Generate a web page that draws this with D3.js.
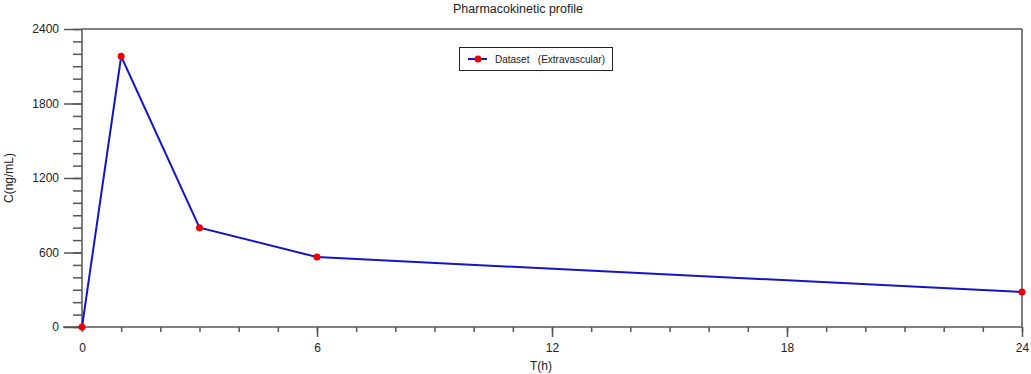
<!DOCTYPE html>
<html>
<head>
<meta charset="utf-8">
<title>Pharmacokinetic profile</title>
<script src="https://d3js.org/d3.v7.min.js"></script>
<style>
    body { margin: 0; background: #fff; }
    svg { display: block; }
    text { font-family: "Liberation Sans", Arial, sans-serif; fill: #222; }
</style>
</head>
<body>
<script>
// data
var times = [0, 1, 3, 6, 24];
var conc = [0, 2180, 800, 563, 282];
var xTicks = [0, 6, 12, 18, 24];
var yTicks = [0, 600, 1200, 1800, 2400];
var seriesName = "Dataset   (Extravascular)";

var w = 1031, h = 374;
// plot box (avoid "top", it clashes with window.top)
var pLeft = 82, pRight = 1022, pTop = 29, pBottom = 327;

var svg = d3.select("body").append("svg")
    .attr("width", w)
    .attr("height", h);

var x = d3.scaleLinear().domain([0, 24]).range([pLeft, pRight]);
var y = d3.scaleLinear().domain([0, 2400]).range([pBottom, pTop]);

var axisColor = "#555";

// frame top and right
svg.append("line")
    .attr("x1", pLeft).attr("x2", pRight).attr("y1", pTop).attr("y2", pTop)
    .attr("stroke", axisColor).attr("stroke-width", 1.5);
svg.append("line")
    .attr("x1", pRight).attr("x2", pRight).attr("y1", pTop).attr("y2", pBottom)
    .attr("stroke", axisColor).attr("stroke-width", 1.5);

// y axis: major ticks every 600, minor every 100
var yAxis = svg.append("g").attr("transform", "translate(" + pLeft + ",0)");
yAxis.append("g")
    .call(d3.axisLeft(y).tickValues(d3.range(0, 2401, 100)).tickSize(9).tickFormat(""))
    .call(function(g) { g.select(".domain").remove(); });
yAxis.append("g")
    .call(d3.axisLeft(y).tickValues(yTicks).tickSize(18).tickPadding(5).tickFormat(d3.format("d")))
    .call(function(g) { g.select(".domain").remove(); });
yAxis.selectAll("line").attr("stroke", axisColor).attr("stroke-width", 1.5);
yAxis.append("line")
    .attr("y1", pTop).attr("y2", pBottom + 3)
    .attr("stroke", axisColor).attr("stroke-width", 1.5);

// x axis: major ticks every 6, minor every 1
var xAxis = svg.append("g").attr("transform", "translate(0," + pBottom + ")");
xAxis.append("g")
    .call(d3.axisBottom(x).tickValues(d3.range(0, 25, 1)).tickSize(5).tickFormat(""))
    .call(function(g) { g.select(".domain").remove(); });
xAxis.append("g")
    .call(d3.axisBottom(x).tickValues(xTicks.slice(1)).tickSize(10).tickPadding(6).tickFormat(d3.format("d")))
    .call(function(g) { g.select(".domain").remove(); });
xAxis.append("g")
    .call(d3.axisBottom(x).tickValues([0]).tickSize(0).tickPadding(16).tickFormat(d3.format("d")))
    .call(function(g) { g.select(".domain").remove(); });
xAxis.selectAll("line").attr("stroke", axisColor).attr("stroke-width", 1.5);
xAxis.append("line")
    .attr("x1", pLeft - 19).attr("x2", pRight)
    .attr("stroke", axisColor).attr("stroke-width", 1.5);

svg.selectAll(".tick text")
    .attr("font-size", 12)
    .attr("fill", "#222")
    .attr("font-family", "'Liberation Sans', Arial, sans-serif");

// titles
svg.append("text")
    .attr("x", 518).attr("y", 13)
    .attr("text-anchor", "middle")
    .attr("font-size", 12.5)
    .text("Pharmacokinetic profile");

svg.append("text")
    .attr("x", 541).attr("y", 370)
    .attr("text-anchor", "middle")
    .attr("font-size", 12)
    .text("T(h)");

svg.append("text")
    .attr("transform", "translate(13,178) rotate(-90)")
    .attr("text-anchor", "middle")
    .attr("font-size", 12)
    .text("C(ng/mL)");

// series line and points
var pts = times.map(function(t, i) { return [t, conc[i]]; });

var line = d3.line()
    .x(function(d) { return x(d[0]); })
    .y(function(d) { return y(d[1]); });

svg.append("path")
    .datum(pts)
    .attr("d", line)
    .attr("fill", "none")
    .attr("stroke", "#1414c8")
    .attr("stroke-width", 2);

svg.selectAll("circle.pt")
    .data(pts)
    .enter()
    .append("circle")
    .attr("class", "pt")
    .attr("cx", function(d) { return x(d[0]); })
    .attr("cy", function(d) { return y(d[1]); })
    .attr("r", 3.5)
    .attr("fill", "#ee0000");

// legend
var legend = svg.append("g").attr("transform", "translate(459,47)");
legend.append("rect")
    .attr("x", 0.5).attr("y", 0.5)
    .attr("width", 153).attr("height", 23)
    .attr("fill", "#fff")
    .attr("stroke", "#222")
    .attr("stroke-width", 1);
legend.append("line")
    .attr("x1", 9).attr("x2", 28).attr("y1", 12).attr("y2", 12)
    .attr("stroke", "#1414c8").attr("stroke-width", 2);
legend.append("circle")
    .attr("cx", 19).attr("cy", 12).attr("r", 3.5)
    .attr("fill", "#ee0000");
legend.append("text")
    .attr("x", 36).attr("y", 16)
    .attr("font-size", 10)
    .attr("xml:space", "preserve")
    .style("white-space", "pre")
    .text(seriesName);
</script>
</body>
</html>
